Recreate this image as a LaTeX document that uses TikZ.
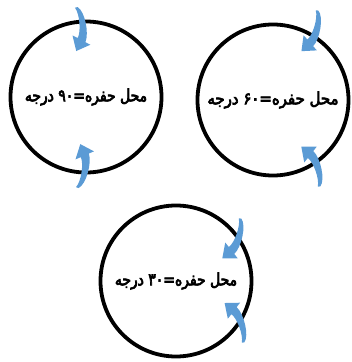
\documentclass[tikz,border=0pt]{standalone}
\usepackage{fontspec}
\newfontfamily\arabicfont[Script=Arabic,FakeBold=4,FakeStretch=0.82]{DejaVu Sans}
\newfontfamily\arabicwide[Script=Arabic,FakeBold=4,FakeStretch=0.88]{DejaVu Sans}
\TeXXeTstate=1
\definecolor{arrowblue}{HTML}{5B9BD5}
\tikzset{
  rim/.style={circle, draw=black, line width=3.8pt, minimum size=151pt, inner sep=0pt,
    font=\arabicfont\fontsize{17}{19}\selectfont},
  bluearrow/.pic={
    \fill[arrowblue] (1.5,0) .. controls (9,4) and (13.7,26) .. (10,35)
      -- (15,37.5) -- (1,44) -- (-3,28.5) -- (2.2,31)
      .. controls (5.5,25) and (4,7) .. (-1,0.8) -- cycle;
  }
}

\begin{document}
\begin{tikzpicture}[x=1pt,y=-1pt]
  \useasboundingbox (0,0) rectangle (352,362);
  % three hole positions
  \node[rim] (hole90) at (86,97) {\beginR محل حفره=\beginL۹۰\endL{} درجه\endR};
  \node[rim,font=\arabicwide\fontsize{17}{19}\selectfont] (hole60) at (273,100)
    {\beginR محل حفره=\beginL۶۰\endL{} درجه\endR};
  \node[rim] (hole30) at (176,281) {\beginR محل حفره=\beginL۳۰\endL{} درجه\endR};
  % arrows
  \pic[rotate=-1] at (76,7) {bluearrow};
  \pic[rotate=-3,yscale=-1] at (77,188) {bluearrow};
  \pic[rotate=-22] at (317,10) {bluearrow};
  \pic[rotate=25,yscale=-1] at (319,187) {bluearrow};
  \pic[rotate=-25] at (240,218) {bluearrow};
  \pic[rotate=26,yscale=-1] at (243,343) {bluearrow};
\end{tikzpicture}
\end{document}
